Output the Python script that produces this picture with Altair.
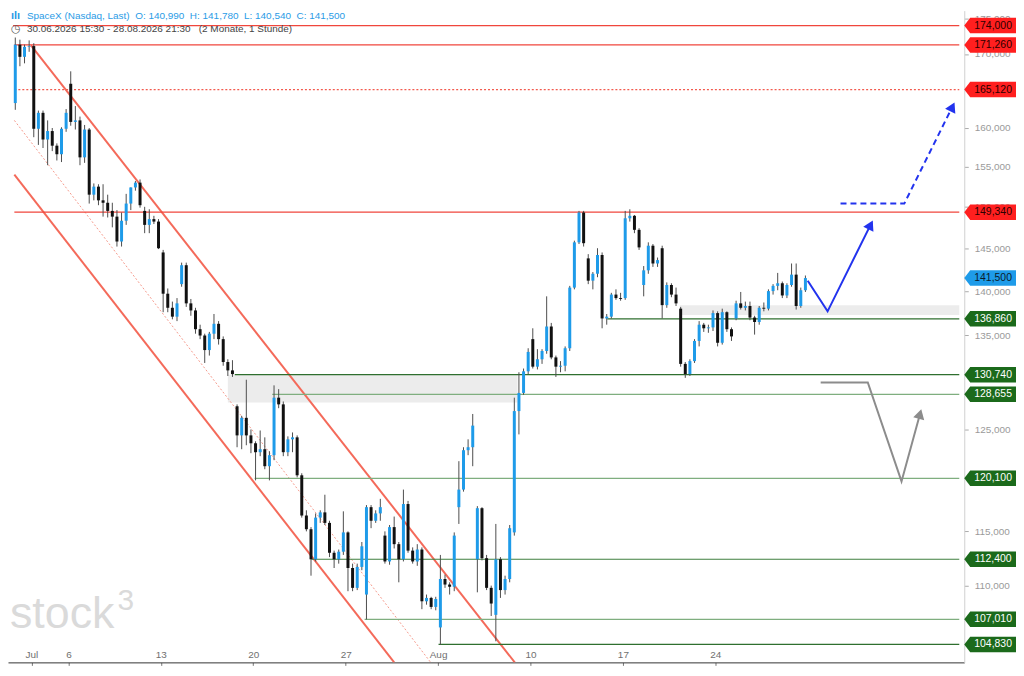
import altair as alt
import pandas as pd

# ---------------- data ----------------
days = ["2026-06-30", "2026-07-01", "2026-07-02", "2026-07-06", "2026-07-07", "2026-07-08",
        "2026-07-09", "2026-07-10", "2026-07-13", "2026-07-14", "2026-07-15", "2026-07-16",
        "2026-07-17", "2026-07-20", "2026-07-21", "2026-07-22", "2026-07-23", "2026-07-24",
        "2026-07-27", "2026-07-28", "2026-07-29", "2026-07-30", "2026-07-31", "2026-08-03",
        "2026-08-04", "2026-08-05", "2026-08-06", "2026-08-07", "2026-08-10", "2026-08-11",
        "2026-08-12", "2026-08-13", "2026-08-14", "2026-08-17", "2026-08-18", "2026-08-19",
        "2026-08-20", "2026-08-21", "2026-08-24", "2026-08-25", "2026-08-26", "2026-08-27",
        "2026-08-28"]
bars_per_day = 4

opens = [
    163.3, 171.3, 169.6, 171.0,  171.1, 159.9, 162.0, 158.5,  159.6, 157.7, 156.6, 159.9,
    165.9, 160.8, 161.0, 156.2,  159.8, 151.5, 152.5, 150.8,  150.5, 149.5, 148.8, 145.8,
    148.3, 150.4, 152.4, 153.0,  149.5, 147.8, 148.5, 148.2,
    144.5, 139.7, 138.1, 137.1,  140.8, 143.0, 138.6, 137.8,  135.7, 135.0, 133.4, 135.2,
    136.3, 134.6, 132.1, 131.2,  127.4, 124.4, 126.2, 124.4,
    123.6, 122.7, 123.0, 121.3,  122.4, 128.3, 127.6, 122.7,  124.0, 124.2, 120.4, 116.5,
    115.2, 112.4, 116.3, 116.8,  115.8, 113.0, 112.4, 113.1,
    114.9, 111.6, 109.8, 111.7,  109.2, 117.3, 116.0, 116.7,  114.6, 112.2, 115.4, 113.8,
    112.4, 117.6, 113.2, 112.2,  113.3, 108.6, 108.9, 108.1,
    106.3, 110.6, 110.1, 109.9,  117.3, 119.0, 122.9, 123.2,  112.4, 117.2, 112.5, 109.8,
    107.4, 112.4, 109.6, 110.6,  114.9, 126.9, 128.8, 131.1,
    134.6, 131.6, 132.4, 133.3,  136.0, 132.6, 131.6, 131.7,  133.6, 140.4, 145.7, 149.3,
    143.8, 141.2, 142.0, 144.2,  136.9, 137.1, 139.6, 139.2,
    139.2, 148.6, 148.9, 147.2,  140.7, 142.4, 145.3, 143.2,  145.0, 138.4, 140.7, 139.6,
    138.0, 131.9, 130.8, 132.2,  134.4, 136.2, 135.8, 135.9,
    137.5, 134.2, 137.6, 135.7,  136.9, 138.6, 138.1, 138.3,  137.0, 136.5, 138.1, 138.0,
    140.0, 140.6, 140.9, 139.5,  140.7, 141.9, 138.3, 140.1,
]
highs = [
    172.3, 172.0, 171.3, 171.9,  171.5, 162.3, 162.3, 161.0,  160.0, 158.0, 160.1, 162.5,
    167.6, 162.9, 161.5, 160.4,  160.0, 152.9, 152.8, 152.8,  151.5, 150.5, 149.6, 149.3,
    151.6, 152.4, 153.2, 153.4,  150.0, 149.7, 148.9, 148.5,
    144.8, 140.3, 138.8, 139.2,  143.3, 143.3, 139.1, 138.1,  136.2, 135.2, 135.4, 137.4,
    136.6, 134.9, 132.4, 132.3,  127.6, 126.4, 130.2, 125.0,
    123.8, 124.9, 124.2, 122.8,  129.6, 129.2, 127.9, 124.3,  124.7, 124.4, 120.6, 117.0,
    115.4, 116.7, 117.0, 118.5,  116.0, 113.2, 113.3, 116.9,
    115.0, 112.0, 112.0, 114.0,  117.5, 117.5, 117.0, 118.1,  115.0, 115.6, 116.4, 114.0,
    119.0, 117.9, 113.5, 113.8,  113.5, 109.2, 109.0, 109.0,
    112.8, 111.0, 110.3, 114.9,  121.8, 123.2, 124.0, 126.6,  117.4, 117.3, 112.8, 110.0,
    115.7, 112.6, 110.9, 115.6,  128.3, 131.0, 131.4, 133.6,
    135.8, 133.5, 133.5, 139.4,  136.4, 132.8, 132.2, 133.8,  140.6, 145.9, 149.5, 149.5,
    144.3, 142.2, 145.0, 144.5,  137.4, 139.8, 140.2, 139.8,
    149.5, 149.7, 149.0, 147.4,  142.9, 145.7, 145.5, 143.9,  145.3, 141.0, 140.9, 140.4,
    138.2, 132.1, 132.4, 134.6,  136.6, 136.4, 136.2, 137.8,
    137.7, 138.0, 137.7, 135.9,  138.9, 139.9, 138.8, 138.8,  137.2, 138.3, 138.7, 140.2,
    140.8, 142.1, 141.1, 140.9,  143.2, 143.2, 140.4, 141.8,
]
lows = [
    162.4, 168.3, 168.7, 170.3,  158.8, 157.8, 157.4, 155.2,  157.0, 155.8, 155.6, 159.5,
    160.3, 159.8, 155.2, 155.5,  150.4, 150.8, 150.2, 148.8,  148.7, 147.5, 145.2, 145.2,
    147.8, 149.6, 152.0, 149.9,  146.8, 146.8, 147.9, 144.9,
    137.6, 137.6, 136.8, 136.6,  140.5, 138.2, 137.2, 135.2,  134.6, 132.0, 132.8, 134.6,
    134.0, 131.7, 130.6, 130.5,  123.2, 123.0, 123.4, 122.6,
    119.9, 122.3, 121.0, 119.9,  121.9, 127.2, 122.3, 122.3,  122.7, 120.2, 116.3, 115.0,
    110.9, 112.2, 115.8, 115.6,  112.6, 111.6, 112.0, 112.8,
    109.5, 109.5, 109.6, 111.4,  107.0, 115.3, 115.8, 116.0,  112.0, 111.9, 113.4, 110.3,
    112.2, 113.0, 112.0, 111.8,  107.9, 108.3, 107.9, 107.8,
    104.8, 109.8, 109.2, 109.5,  115.7, 118.8, 122.4, 121.3,  109.4, 112.3, 109.6, 107.3,
    105.1, 108.9, 109.2, 110.3,  114.6, 124.5, 128.6, 130.8,
    131.4, 131.3, 131.9, 133.0,  132.4, 130.5, 131.0, 131.1,  133.3, 140.2, 145.5, 145.2,
    140.8, 140.2, 141.6, 135.8,  136.2, 136.9, 139.0, 138.9,
    139.0, 148.2, 146.8, 144.8,  139.4, 142.0, 142.8, 142.8,  136.9, 138.1, 139.3, 138.3,
    131.6, 130.4, 130.6, 132.0,  133.8, 135.4, 135.3, 135.5,
    133.8, 134.0, 135.4, 134.4,  136.7, 137.9, 137.8, 136.7,  135.1, 136.2, 137.7, 137.8,
    139.6, 140.1, 139.2, 139.2,  140.5, 137.9, 138.1, 139.9,
]
closes = [
    171.3, 169.6, 171.0, 171.1,  159.9, 162.0, 158.5, 159.6,  157.7, 156.6, 159.9, 162.0,
    160.8, 161.0, 156.2, 159.8,  151.5, 152.5, 150.8, 150.5,  149.5, 148.8, 145.8, 148.3,
    150.4, 152.4, 153.0, 150.2,  147.8, 148.5, 148.2, 145.0,
    139.7, 138.1, 137.1, 138.6,  143.0, 138.6, 137.8, 135.7,  135.0, 133.4, 135.2, 136.3,
    134.6, 132.1, 131.2, 130.8,  124.4, 126.2, 124.4, 123.6,
    122.7, 123.0, 121.3, 122.4,  128.3, 127.6, 122.7, 124.0,  124.2, 120.4, 116.5, 115.2,
    112.4, 116.3, 116.8, 115.8,  113.0, 112.4, 113.1, 114.9,
    111.6, 109.8, 111.7, 113.6,  117.3, 116.0, 116.7, 117.3,  112.2, 115.4, 113.8, 112.4,
    117.6, 113.2, 112.2, 113.3,  108.6, 108.9, 108.1, 108.8,
    110.6, 110.1, 109.9, 114.6,  119.0, 122.9, 123.2, 125.4,  117.2, 112.5, 109.8, 108.4,
    112.4, 109.6, 110.6, 115.3,  126.9, 128.8, 131.1, 133.2,
    131.6, 132.4, 133.3, 136.0,  132.6, 131.6, 131.7, 133.6,  140.4, 145.7, 149.3, 145.6,
    141.2, 142.0, 144.2, 136.9,  137.1, 139.6, 139.2, 139.1,
    148.6, 148.9, 147.2, 145.1,  142.4, 145.3, 143.2, 143.6,  138.4, 140.7, 139.6, 138.6,
    131.9, 130.8, 132.2, 134.4,  136.2, 135.8, 135.9, 137.5,
    134.2, 137.6, 135.7, 134.9,  138.6, 138.1, 138.3, 137.0,  136.5, 138.1, 138.0, 140.0,
    140.6, 140.9, 139.5, 140.7,  141.9, 138.3, 140.1, 141.5,
]

tick_days = ["2026-07-01", "2026-07-06", "2026-07-13", "2026-07-20", "2026-07-27",
             "2026-08-03", "2026-08-10", "2026-08-17", "2026-08-24"]
tick_labels = ["Jul", "6", "13", "20", "27", "Aug", "10", "17", "24"]
# price ticks that are not completely hidden behind a price tag
y_ticks = [110, 115, 125, 135, 140, 145, 150, 155, 160, 170, 175]

# horizontal levels (value, bar where the level starts)
level_values = [174.0, 171.26, 149.34, 136.86, 130.74, 128.655, 120.1, 112.4, 107.01, 104.83]
level_from_bar = [0, 0.3, 0.3, 128.6, 48.0, 56.1, 52.3, 64.6, 76.1, 92.1]
level_colors = ["#f0463c", "#f0463c", "#f0463c",
                "#2f6f2f", "#2f6f2f", "#7fae7f", "#7fae7f", "#3f7f3f", "#7fae7f", "#2f6f2f"]
dotted_level = 165.12
dotted_from_bar = 0.3

# price tags on the right axis
tag_values = [174.0, 171.26, 165.12, 149.34, 141.5, 136.86, 130.74, 128.655, 120.1, 112.4, 107.01, 104.83]
tag_fill = ["#ff1f1f"] * 4 + ["#1e9be9"] + ["#1b6a1b"] * 7
tag_text = ["#2b0000"] * 4 + ["#0b1b2b"] + ["#ffffff"] * 7

# trend channel (start bar, start price, end bar, end price)
chan_from_bar = [3.9, 0.3, 0.3]
chan_from_price = [171.2, 161.0, 154.0]
chan_to_bar = [108.6, 90.4, 82.5]
chan_to_price = [103.3, 103.3, 103.3]
chan_style = ["solid", "dotted", "solid"]

# grey zones
zone_from_bar = [46.5, 144.3]
zone_to_bar = [109.2, 204.8]
zone_top = [130.74, 138.4]
zone_bottom = [127.8, 137.3]

# scenario arrows
up_bar = [172.0, 176.3, 185.6]
up_price = [141.2, 137.7, 147.8]
target_bar = [179.1, 192.9, 203.3]
target_price = [150.4, 150.4, 162.8]
alt_bar = [174.8, 185.0, 192.3, 196.3]
alt_price = [129.9, 129.9, 119.8, 126.6]

header_name = "SpaceX (Nasdaq, Last)"
header_ohlc = [140.990, 141.780, 140.540, 141.500]
header_range = "30.06.2026 15:30 - 28.08.2026 21:30"
header_span = "(2 Monate, 1 Stunde)"

# ---------------- layout ----------------
W, H = 961, 655
X_MIN, X_MAX = 0, 204.8
TAG_W = 52
xs = alt.Scale(domain=[X_MIN, X_MAX], nice=False, zero=False)
ys = alt.Scale(type="log", domain=[103.30, 176.14], nice=False)


def de(v):
    return f"{v:.3f}".replace(".", ",")


n = len(closes)
candles = pd.DataFrame({
    "bar": [i + 0.5 for i in range(n)],
    "day": [days[i // bars_per_day] for i in range(n)],
    "open": opens, "high": highs, "low": lows, "close": closes,
})
candles["dir"] = ["up" if c >= o else "down" for o, c in zip(opens, closes)]

tick_pos = [days.index(d) * bars_per_day for d in tick_days]
x_label_expr = "".join(f"datum.value == {p} ? '{l}' : " for p, l in zip(tick_pos, tick_labels)) + "''"

x_axis = alt.Axis(values=tick_pos, labelExpr=x_label_expr, grid=False, title=None,
                  domainColor="#333333", tickColor="#777777", tickSize=3, labelPadding=-16,
                  labelColor="#707070", labelFontSize=10, labelFlush=False, labelOverlap=False)
y_axis = alt.Axis(orient="right", values=y_ticks, grid=False, title=None,
                  labelExpr="replace(format(datum.value, '.3f'), '.', ',')",
                  domainColor="#d0d0d0", tickColor="#aaaaaa", tickSize=4, labelPadding=6,
                  labelColor="#9a9a9a", labelFontSize=10, labelOverlap=False, zindex=0)


def X(field):
    return alt.X(field, scale=xs, axis=x_axis)


def Y(field):
    return alt.Y(field, scale=ys, axis=y_axis)


# ---------------- layers ----------------
watermark = alt.Chart(pd.DataFrame({"t": ["stock"]})).mark_text(
    align="left", baseline="alphabetic", fontSize=45, color="#dadada").encode(
    text="t:N", x=alt.value(2), y=alt.value(620))
wm3 = alt.Chart(pd.DataFrame({"t": ["3"]})).mark_text(
    align="left", baseline="alphabetic", fontSize=30, color="#dadada").encode(
    text="t:N", x=alt.value(110), y=alt.value(602))

zones = alt.Chart(pd.DataFrame({"a": zone_from_bar, "b": zone_to_bar, "top": zone_top,
                                "bot": zone_bottom})).mark_rect(color="#ececec").encode(
    x=X("a:Q"), x2="b:Q", y=Y("top:Q"), y2="bot:Q")

chan = pd.DataFrame({"a": chan_from_bar, "pa": chan_from_price, "b": chan_to_bar,
                     "pb": chan_to_price, "s": chan_style})
chan_solid = alt.Chart(chan).transform_filter("datum.s == 'solid'").mark_rule(
    color="#f46a5a", strokeWidth=2, clip=True).encode(
    x=X("a:Q"), x2="b:Q", y=Y("pa:Q"), y2="pb:Q")
chan_dot = alt.Chart(chan).transform_filter("datum.s == 'dotted'").mark_rule(
    color="#f59a8c", strokeWidth=1, strokeDash=[2, 2], clip=True).encode(
    x=X("a:Q"), x2="b:Q", y=Y("pa:Q"), y2="pb:Q")

lv = pd.DataFrame({"v": level_values, "a": level_from_bar, "c": level_colors})
lv["b"] = X_MAX
lv_solid = alt.Chart(lv).mark_rule(strokeWidth=1.2).encode(
    x=X("a:Q"), x2="b:Q", y=Y("v:Q"), color=alt.Color("c:N", scale=None))
dot_df = pd.DataFrame({"v": [dotted_level], "a": [dotted_from_bar], "b": [X_MAX]})
lv_dot = alt.Chart(dot_df).mark_rule(color="#f25a4e", strokeWidth=1.3, strokeDash=[2, 2]).encode(
    x=X("a:Q"), x2="b:Q", y=Y("v:Q"))

base = alt.Chart(candles)
wicks = base.mark_rule(color="#4d4d4d", strokeWidth=1).encode(
    x=X("bar:Q"), y=Y("low:Q"), y2="high:Q")
bodies = base.mark_bar(size=3).encode(
    x=X("bar:Q"), y=Y("open:Q"), y2="close:Q",
    color=alt.Color("dir:N", scale=alt.Scale(domain=["up", "down"], range=["#1e9be9", "#111111"]),
                    legend=None))


def path_layer(bx, py, color, dash=None, angle=0):
    df = pd.DataFrame({"bar": bx, "p": py, "seq": list(range(len(bx)))})
    kw = dict(color=color, strokeWidth=2)
    if dash:
        kw["strokeDash"] = dash
    line = alt.Chart(df).mark_line(**kw).encode(x=X("bar:Q"), y=Y("p:Q"), order="seq:Q")
    head = alt.Chart(df.tail(1)).mark_point(shape="triangle-up", filled=True, size=130, angle=angle,
                                           color=color, opacity=1).encode(x=X("bar:Q"), y=Y("p:Q"))
    return [line, head]


arrows = (path_layer(up_bar, up_price, "#2233ee", angle=27)
          + path_layer(target_bar, target_price, "#2233ee", dash=[6, 4], angle=26)
          + path_layer(alt_bar, alt_price, "#8c8c8c", angle=15))

sp = "\u00a0\u00a0"
line1 = header_name + sp + sp.join(f"{k}: {de(v)}" for k, v in zip("OHLC", header_ohlc))
line2 = header_range + sp + "\u00a0" + header_span
hdr_icon = alt.Chart(pd.DataFrame({"t": ["\u0131l\u0131"]})).mark_text(
    align="left", baseline="middle", fontSize=11, fontWeight="bold", color="#2a9be6").encode(
    text="t:N", x=alt.value(3), y=alt.value(5))
hdr1 = alt.Chart(pd.DataFrame({"t": [line1]})).mark_text(
    align="left", baseline="middle", fontSize=10, color="#2a9be6").encode(
    text="t:N", x=alt.value(19), y=alt.value(5))
hdr_clock = alt.Chart(pd.DataFrame({"t": ["\u25f7"]})).mark_text(
    align="left", baseline="middle", fontSize=11, font="DejaVu Sans", color="#555555").encode(
    text="t:N", x=alt.value(3), y=alt.value(18))
hdr2 = alt.Chart(pd.DataFrame({"t": [line2]})).mark_text(
    align="left", baseline="middle", fontSize=10, color="#444444").encode(
    text="t:N", x=alt.value(19), y=alt.value(18))

FLAG = "M-1,0L-0.77,-0.3L1,-0.3L1,0.3L-0.77,0.3Z"
tags = pd.DataFrame({"v": tag_values, "fill": tag_fill, "tc": tag_text})
tags["label"] = [de(v) for v in tag_values]
tag_box = alt.Chart(tags).mark_point(shape=FLAG, filled=True, size=TAG_W * TAG_W, opacity=1,
                                     strokeWidth=0).encode(
    x=alt.value(W + TAG_W / 2), y=Y("v:Q"), color=alt.Color("fill:N", scale=None))
tag_txt = alt.Chart(tags).mark_text(align="center", baseline="middle", fontSize=10.5, dx=3).encode(
    x=alt.value(W + TAG_W / 2), y=Y("v:Q"), text="label:N", color=alt.Color("tc:N", scale=None))

chart = alt.layer(
    watermark, wm3, zones, chan_dot, chan_solid, lv_solid, lv_dot, wicks, bodies,
    *arrows, hdr_icon, hdr1, hdr_clock, hdr2, tag_box, tag_txt
).properties(
    width=W, height=H, padding={"left": 0, "top": 0, "right": 0, "bottom": 0}
).configure(font="Liberation Sans").configure_view(strokeWidth=0)

chart.save("out.html", embed_options={"renderer": "svg", "actions": False})
